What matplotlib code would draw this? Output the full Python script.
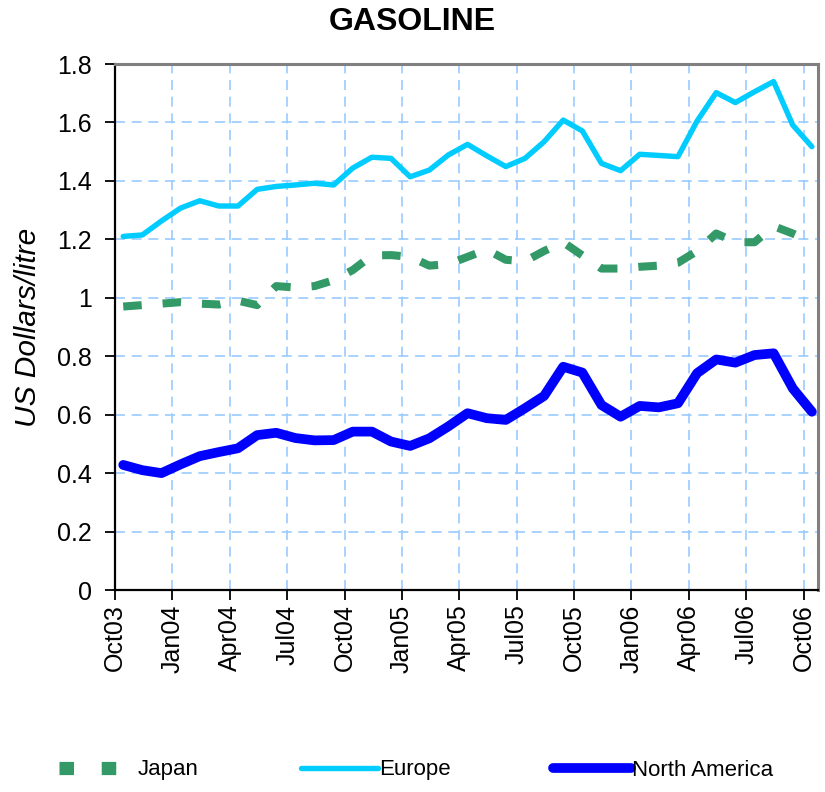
import numpy as np
import matplotlib
matplotlib.use("Agg")
import matplotlib.pyplot as plt
from matplotlib.lines import Line2D

# monthly series, Oct03 .. Oct06
months = np.arange(37)
tick_labels = ["Oct03", "Jan04", "Apr04", "Jul04", "Oct04", "Jan05", "Apr05",
               "Jul05", "Oct05", "Jan06", "Apr06", "Jul06", "Oct06"]

europe = [1.21, 1.215, 1.263, 1.307, 1.332, 1.314, 1.314, 1.371, 1.381, 1.386,
          1.392, 1.386, 1.444, 1.481, 1.477, 1.414, 1.437, 1.489, 1.525, 1.486,
          1.449, 1.477, 1.534, 1.608, 1.571, 1.46, 1.435, 1.491, 1.487, 1.483,
          1.605, 1.702, 1.668, 1.705, 1.74, 1.591, 1.517]

japan = [0.97, 0.975, 0.98, 0.985, 0.98, 0.977, 0.99, 0.975, 1.04, 1.035,
         1.04, 1.06, 1.095, 1.145, 1.146, 1.14, 1.11, 1.115, 1.14, 1.165,
         1.13, 1.125, 1.16, 1.19, 1.145, 1.10, 1.10, 1.106, 1.11, 1.12,
         1.16, 1.22, 1.19, 1.19, 1.245, 1.22, 1.19]

north_america = [0.428, 0.41, 0.40, 0.43, 0.458, 0.472, 0.485, 0.53, 0.538, 0.52,
                 0.512, 0.513, 0.542, 0.542, 0.508, 0.493, 0.519, 0.56, 0.605, 0.588,
                 0.582, 0.622, 0.664, 0.764, 0.744, 0.633, 0.593, 0.63, 0.625, 0.639,
                 0.742, 0.789, 0.778, 0.804, 0.81, 0.69, 0.61]

OFFSET = 0.43   # data sit mid-month, ticks at month start
FONT = "Liberation Sans"

fig = plt.figure(figsize=(8.25, 7.92), dpi=100)
ax = fig.add_axes([115/825, 1-590/792, (818-115)/825, (590-64)/792])

x = months + OFFSET
l_jp, = ax.plot(x, japan, color="#339966", lw=5.8, dashes=(2.3, 2.6),
                dash_capstyle="butt", label="Japan", zorder=3)
l_eu, = ax.plot(x, europe, color="#00CCFF", lw=3.9, solid_joinstyle="round",
                solid_capstyle="round", label="Europe", zorder=3)
l_na, = ax.plot(x, north_america, color="#0000FF", lw=7, solid_joinstyle="round",
                solid_capstyle="round", label="North America", zorder=3)

ax.set_xlim(0, 36.75)
ax.set_ylim(0, 1.8)
ax.set_xticks(np.arange(0, 37, 3))
ax.set_xticklabels(tick_labels, rotation=90, fontsize=18, family=FONT)
yt = np.round(np.arange(0, 1.81, 0.2), 1)
ax.set_yticks(yt)
ax.set_yticklabels(["%g" % v for v in yt], fontsize=18, family=FONT)
ax.tick_params(axis="y", direction="out", length=7.5, width=1.3, color="black", pad=9)
ax.tick_params(axis="x", direction="out", length=7.5, width=1.3, color="black", pad=3)

ax.grid(True, color="#99CCFF", lw=1.2, dashes=(6, 4))
ax.set_axisbelow(True)
for s in ["left", "bottom"]:
    ax.spines[s].set_color("black")
    ax.spines[s].set_linewidth(1.6)
for s in ["top", "right"]:
    ax.spines[s].set_color("#808080")
    ax.spines[s].set_linewidth(2.2)

fig.text(28/825, 1-327/792, "US Dollars/litre", rotation=90, fontsize=21.5,
         style="italic", family=FONT, ha="center", va="center")

fig.text(0.5, 1-22/792, "GASOLINE", fontsize=23, fontweight="bold",
         family=FONT, ha="center", va="center")

# legend swatch for Japan shows square dashes
jp_proxy = Line2D([], [], color="#339966", lw=9.5, dashes=(1.1, 2.1),
                  dash_capstyle="butt")
fig.legend([jp_proxy, l_eu, l_na], ["Japan", "Europe", "North America"],
           loc="center", bbox_to_anchor=(416/825, 1-770/792), ncol=3,
           frameon=False, handlelength=3.5, handletextpad=0.05,
           columnspacing=4.6, prop={"family": FONT, "size": 16})

fig.savefig("out.png", dpi=100)
